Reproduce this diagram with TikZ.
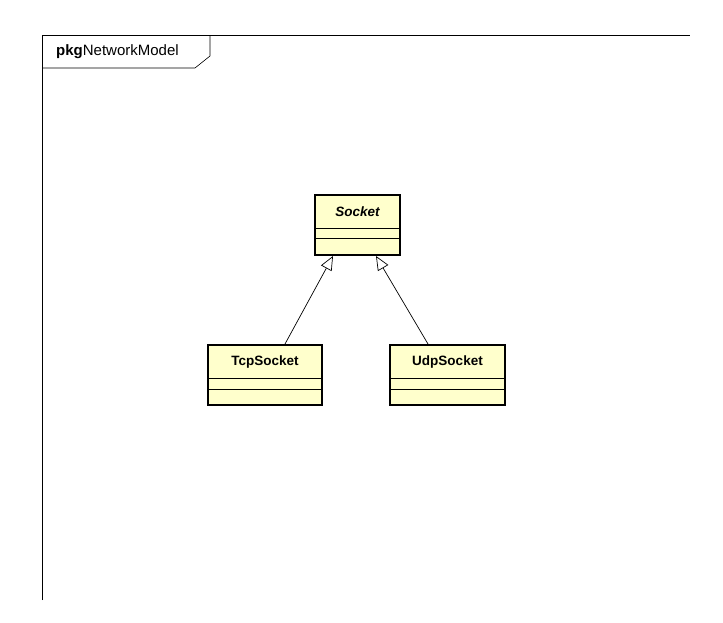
\documentclass[tikz,border=0pt]{standalone}
\usepackage{fontspec}
\setmainfont{Liberation Sans}
\usetikzlibrary{arrows.meta}
\definecolor{cls}{RGB}{255,255,204}
\begin{document}
\begin{tikzpicture}[x=1pt,y=-1pt,
  box/.style={draw=black,line width=1.8pt,fill=cls},
  sep/.style={draw=black,line width=0.5pt},
  lbl/.style={font=\fontsize{13.5}{15}\selectfont\bfseries,inner sep=0pt},
  gen/.style={draw=black,line width=0.7pt,-{Triangle[open,length=14pt,width=12pt,fill=white]}}]
\useasboundingbox[fill=white] (0,0) rectangle (723,622);
% frame
\draw[line width=0.6pt] (42,600) -- (42,35) -- (690,35);
\draw[line width=0.6pt] (42,68) -- (195,68) -- (210,56) -- (210,35);
\node[anchor=west,inner sep=0pt,font=\fontsize{15}{17}\selectfont] (title) at (56,52) {\textbf{pkg}NetworkModel};
% classes
\draw[box] (315,195) rectangle (400,255);
\draw[sep] (315,228) -- (400,228); \draw[sep] (315,238) -- (400,238);
\node[lbl,font=\fontsize{13.5}{15}\selectfont\bfseries\itshape] (sn) at (357.5,212) {Socket};
\coordinate (sl) at (333,256); \coordinate (sr) at (376,256);
\draw[box] (208,345) rectangle (322,405);
\draw[sep] (208,378) -- (322,378); \draw[sep] (208,389) -- (322,389);
\node[lbl] (tn) at (265,362) {TcpSocket};
\coordinate (tt) at (285,344);
\draw[box] (390,345) rectangle (505,405);
\draw[sep] (390,378) -- (505,378); \draw[sep] (390,389) -- (505,389);
\node[lbl] (un) at (447.5,362) {UdpSocket};
\coordinate (ut) at (428,344);
\draw[gen] (tt) -- (sl);
\draw[gen] (ut) -- (sr);
\end{tikzpicture}
\end{document}
